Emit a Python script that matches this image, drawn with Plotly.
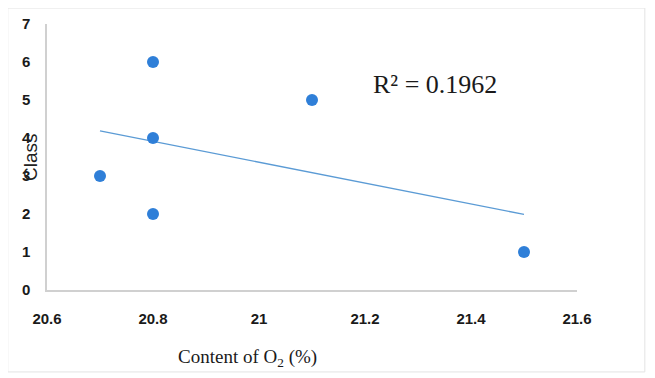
import numpy as np
import plotly.graph_objects as go

o2_content = [20.7, 20.8, 20.8, 20.8, 21.1, 21.5]
class_values = [3, 6, 4, 2, 5, 1]
r2_label = "R² = 0.1962"
x_title = "Content of O<sub>2</sub> (%)"
y_title = "Class"

slope, intercept = np.polyfit(o2_content, class_values, 1)
trend_x = [min(o2_content), max(o2_content)]
trend_y = [slope * v + intercept for v in trend_x]

fig = go.Figure()
fig.add_trace(go.Scatter(x=trend_x, y=trend_y, mode="lines",
                         line=dict(color="#5B9BD5", width=1.3), showlegend=False))
fig.add_trace(go.Scatter(x=o2_content, y=class_values, mode="markers",
                         marker=dict(color="#2F7FD8", size=12), showlegend=False))

tick_font = dict(family="Liberation Sans", size=15, color="#1a1a1a", weight="bold")

fig.update_layout(
    width=655, height=378,
    margin=dict(l=39, r=86, t=16, b=96),
    paper_bgcolor="white", plot_bgcolor="white",
    xaxis=dict(range=[20.6, 21.6], dtick=0.2, showgrid=False, zeroline=False,
               showline=True, linecolor="#d0d0d0", linewidth=1.5, automargin=False,
               tickfont=tick_font, ticks="", ticklabelstandoff=14),
    yaxis=dict(range=[0, 7], dtick=1, showgrid=False, zeroline=False,
               showline=True, linecolor="#d0d0d0", linewidth=1.5, automargin=False,
               tickfont=tick_font, ticks="", ticklabelstandoff=12),
    annotations=[
        dict(text=r2_label, x=0.732, y=0.774, xref="paper", yref="paper",
             xanchor="center", yanchor="middle", showarrow=False,
             font=dict(family="Liberation Serif", size=26, color="#1a1a1a")),
        dict(text=x_title, x=0.379, y=-0.256, xref="paper", yref="paper",
             xanchor="center", yanchor="middle", showarrow=False,
             font=dict(family="Liberation Serif", size=19, color="#1a1a1a")),
        dict(text=y_title, x=-0.032, y=0.5, xref="paper", yref="paper", textangle=-90,
             xanchor="center", yanchor="middle", showarrow=False,
             font=dict(family="Liberation Sans", size=19, color="#222")),
    ],
    shapes=[dict(type="rect", xref="paper", yref="paper", x0=-0.074, x1=1.128,
                 y0=-0.308, y1=1.06, line=dict(color="#e3e3e3", width=1))],
)

fig.write_html("out.html")
